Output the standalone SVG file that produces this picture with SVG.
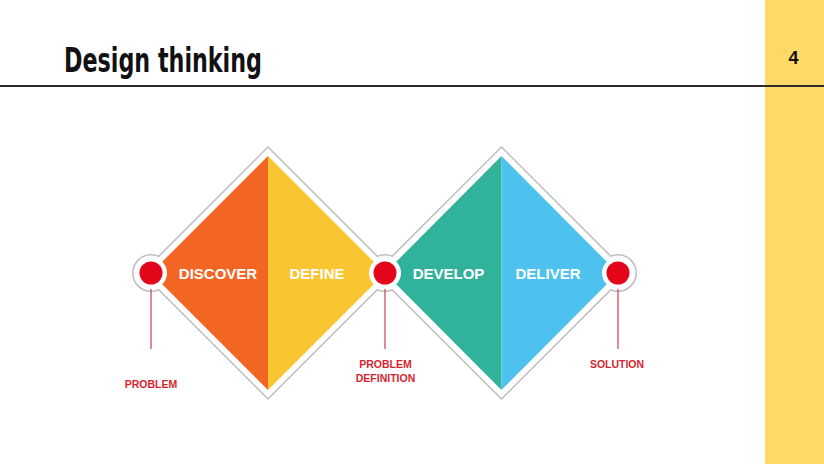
<svg xmlns="http://www.w3.org/2000/svg" width="824" height="464" viewBox="0 0 824 464">
<style>
.lbl{font-family:"Liberation Sans",Arial,sans-serif;font-weight:bold;font-size:15px;fill:#ffffff;text-anchor:middle}
.cap{font-family:"Liberation Sans",Arial,sans-serif;font-weight:bold;font-size:10.5px;fill:#d71f30;text-anchor:middle}
.out{fill:#ffffff;stroke:#bdbdbd;stroke-width:3}
.wh{fill:#ffffff}
.dot{fill:#e3061b}
.lead{stroke:#c9505c;stroke-width:1.3}
</style>
<rect x="0" y="0" width="824" height="464" fill="#ffffff"/>
<rect x="765" y="0" width="59" height="464" fill="#fed967"/>
<line x1="0" y1="86" x2="824" y2="86" stroke="#2b2b2b" stroke-width="2"/>
<text x="64" y="72" font-family="'DejaVu Sans',sans-serif" font-stretch="condensed" font-weight="bold" font-size="33" textLength="198" lengthAdjust="spacingAndGlyphs" fill="#111111">Design thinking</text>
<text x="793.5" y="63.5" font-family="'Liberation Sans',Arial,sans-serif" font-weight="bold" font-size="18" text-anchor="middle" fill="#111111">4</text>

<!-- outlines (union) -->
<g id="outline">
<polygon class="out" points="268,148 393,273 268,398 143,273"/>
<polygon class="out" points="501.5,148 626.5,273 501.5,398 376.5,273"/>
<circle class="out" cx="151" cy="273" r="17.5"/>
<circle class="out" cx="385" cy="273" r="17.5"/>
<circle class="out" cx="618" cy="273" r="17.5"/>
<polygon class="wh" points="268,148 393,273 268,398 143,273"/>
<polygon class="wh" points="501.5,148 626.5,273 501.5,398 376.5,273"/>
<circle class="wh" cx="151" cy="273" r="17.5"/>
<circle class="wh" cx="385" cy="273" r="17.5"/>
<circle class="wh" cx="618" cy="273" r="17.5"/>
</g>

<g id="discover">
<polygon points="151,273 268,156 268,390" fill="#f26522"/>
<text class="lbl" x="218" y="278.5">DISCOVER</text>
</g>
<g id="define">
<polygon points="268,156 385,273 268,390" fill="#fbc431"/>
<text class="lbl" x="317" y="278.5">DEFINE</text>
</g>
<g id="develop">
<polygon points="385,273 501.5,156 501.5,390" fill="#31b29b"/>
<text class="lbl" x="448.5" y="278.5">DEVELOP</text>
</g>
<g id="deliver">
<polygon points="501.5,156 618,273 501.5,390" fill="#4dc2ef"/>
<text class="lbl" x="548" y="278.5">DELIVER</text>
</g>

<g id="connectors">
<line class="lead" x1="151" y1="284" x2="151" y2="349"/>
<line class="lead" x1="385" y1="284" x2="385" y2="349"/>
<line class="lead" x1="618" y1="284" x2="618" y2="349"/>
</g>

<g id="problem">
<circle class="wh" cx="151" cy="273" r="16"/>
<circle class="dot" cx="151" cy="273" r="11.5"/>
<text class="cap" x="151" y="388">PROBLEM</text>
</g>
<g id="problem-definition">
<circle class="wh" cx="385" cy="273" r="16"/>
<circle class="dot" cx="385" cy="273" r="11.5"/>
<text class="cap" x="385.5" y="368">PROBLEM</text>
<text class="cap" x="385.5" y="382">DEFINITION</text>
</g>
<g id="solution">
<circle class="wh" cx="618" cy="273" r="16"/>
<circle class="dot" cx="618" cy="273" r="11.5"/>
<text class="cap" x="617" y="368">SOLUTION</text>
</g>
</svg>
